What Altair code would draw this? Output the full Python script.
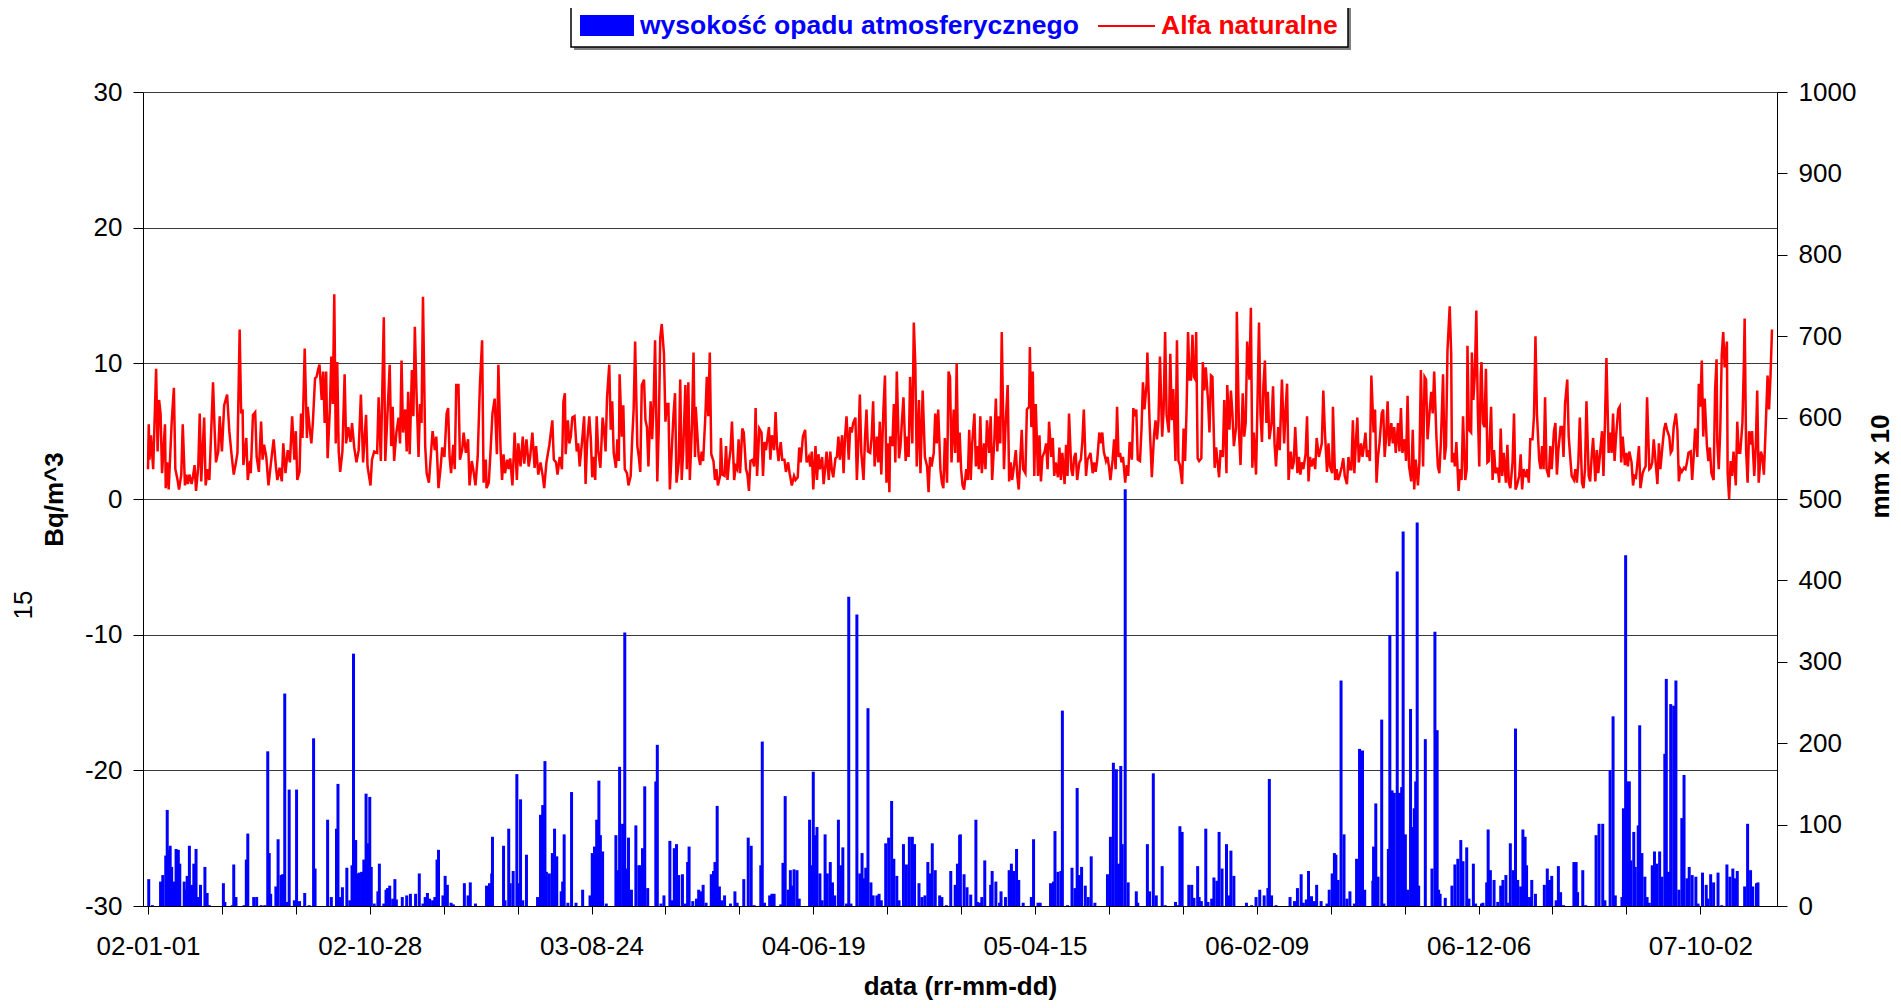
import altair as alt
import pandas as pd

FONT = "Liberation Sans"

# ---- Alfa naturalne [Bq/m^3]: (day since 2002-01-01, value) ----
alfa_a = [(0,2.2),(1,5.5),(2,2.9),(4,4.7),(7,2.2),(11,9.6),(13,3.5),(15,7.3),(17,6.3),(19,1.9),(23,5.5),(24,0.8),(26,2.7),(28,0.7),(32,5.6),(35,8.2),(37,2.2),(40,1.4),(42,0.7),(45,1.8),(47,5.5),(50,1.0),(52,1.8),(54,1.1),(56,1.8),(59,1.1),(61,1.7),(63,2.5),(65,0.6),(68,2.4),(70,6.3),(72,1.3),(76,6.0),(78,1.0),(81,2.2),(83,1.4),(88,8.6),(90,5.3),(92,2.7),(95,3.5),(97,6.1),(100,3.5),(103,6.9),(107,7.7),(110,5.0),(113,3.3),(116,1.8),(119,2.7),(121,3.4),(124,12.5),(126,6.3),(128,6.6),(129,2.5),(133,4.5),(135,1.4),(138,2.8),(139,1.9),(142,6.2),(145,6.4),(147,3.1),(150,2.0),(153,5.7),(155,2.9),(157,4.0),(160,3.1),(163,1.0),(166,2.5),(170,4.4),(173,2.4),(175,1.4),(178,2.3),(181,1.3),(183,4.1),(186,1.9),(189,3.6),(192,2.7),(195,6.1),(198,2.9),(200,5.0),(202,1.4),(205,2.0),(207,6.3),(209,4.5),(212,11.1),(215,4.5),(216,6.8),(219,5.1),(221,4.1),(223,5.6),(226,8.9),(228,9.0),(230,9.5),(232,9.9),(235,7.3),(237,9.4),(239,5.6),(241,9.4),(243,3.0),(246,6.6),(248,10.5),(250,7.0),(252,15.1),(254,4.1),(256,10.1),(258,3.5),(260,2.0),(263,3.5),(266,9.2),(268,4.1),(271,5.3),(274,4.2),(276,5.6),(279,3.8),(282,2.7),(285,3.6),(288,7.7),(291,2.7),(295,6.2),(297,2.4),(301,1.0),(303,2.9),(306,3.5),(310,3.4),(312,7.5),(315,2.8),(319,13.4),(321,2.8),(324,6.3),(327,9.9),(329,3.9),(331,6.8),(333,2.8),(336,4.9),(339,6.0),(341,4.1),(343,10.2),(345,4.9),(348,6.6),(350,3.5),(352,7.9),(354,3.3),(357,9.5),(359,6.1),(361,12.7),(363,8.3),(366,3.1),(368,7.0),(370,5.6),(372,14.9),(375,3.9),(377,1.9),(380,1.2),(383,3.5),(385,5.0),(388,3.6),(390,4.6),(393,0.8),(396,2.4),(398,3.8),(401,3.1),(404,6.3),(406,6.7),(408,3.1),(410,1.9),(413,4.0),(415,2.2),(417,8.4),(420,8.4),(422,2.9),(425,3.6),(427,4.9),(430,3.4),(433,4.4),(435,1.0),(438,2.8),(440,2.2),(443,1.0),(446,3.1),(449,8.4),(452,11.7),(454,1.2),(457,2.9),(458,0.8),(461,1.2),(463,3.1),(466,6.3),(469,7.4),(472,3.3),(474,9.9),(477,3.6),(479,1.4),(481,3.3),(483,1.9),(486,2.9),(488,2.2),(490,3.0),(493,1.0),(496,4.9),(499,1.4),(501,4.1),(504,2.4),(507,4.6),(509,2.6),(512,4.4),(515,2.4),(517,3.1),(520,4.9),(523,2.3),(525,3.9),(528,1.8),(531,2.7),(534,1.7),(536,0.8),(539,2.7)]
alfa_b = [(543,4.0),(547,5.8),(549,2.9),(552,2.7),(554,1.8),(557,3.1),(560,2.2),(562,7.2),(564,7.8),(565,3.3),(568,5.8),(570,4.1),(572,4.6),(574,6.0),(577,6.1),(580,3.5),(582,4.1),(584,2.4),(587,4.1),(590,6.1),(592,1.1),(594,4.1),(597,6.1),(599,4.5),(601,1.6),(603,3.1),(605,1.4),(607,6.1),(609,3.6),(612,2.3),(615,6.0),(617,5.1),(619,3.5),(621,7.5),(624,9.9),(626,5.1),(628,7.2),(630,3.4),(633,2.3),(635,4.4),(637,2.8),(638,9.2),(641,4.6),(643,6.9),(645,2.2),(648,1.9),(650,1.0),(653,1.7),(655,4.4),(657,6.6),(659,11.6),(662,3.9),(664,3.1),(666,2.0),(668,8.4),(671,8.8),(673,5.8),(675,5.3),(677,2.4),(680,7.2),(682,4.4),(684,7.0),(686,11.7),(689,1.3),(691,5.3),(693,11.9),(695,12.9),(698,10.7),(700,5.7),(702,7.0),(704,7.0),(706,0.7),(709,4.1),(711,6.3),(713,7.8),(715,1.2),(718,2.7),(720,8.8),(722,1.4),(724,3.5),(727,8.4),(729,2.2),(731,8.6),(733,1.4),(736,5.6),(738,10.8),(740,3.1),(741,6.8),(745,3.1),(747,2.5),(749,3.5),(751,2.8),(754,6.1),(756,9.0),(758,6.1),(760,10.8),(762,3.3),(765,2.8),(767,1.4),(769,2.2),(771,1.0),(774,1.7),(775,4.5),(777,1.8),(780,1.7),(782,3.9),(784,1.4),(786,2.7),(788,3.6),(790,5.7),(793,1.4),(795,2.4),(797,2.2),(799,4.4),(801,1.9),(804,5.2),(806,4.9),(809,2.2),(811,1.8),(813,0.6),(815,2.8),(818,2.9),(820,2.4),(822,6.7),(824,1.7),(827,5.2),(830,4.9),(832,1.7),(834,4.2),(836,3.6),(840,5.3),(842,2.9),(844,4.7),(847,3.6),(849,6.4),(851,3.9),(853,2.8),(856,4.2),(858,2.9),(861,2.9),(863,2.0),(866,2.7),(868,1.9),(871,1.0),(874,1.7),(876,1.4),(879,1.6),(881,3.8),(883,2.7),(886,4.6),(889,5.1),(891,2.7),(894,3.1),(896,2.4),(898,3.5),(900,0.7),(903,3.9),(905,1.4),(907,3.3),(909,2.2),(912,3.1),(914,1.1),(916,2.2),(918,3.5),(921,1.4),(923,3.5),(925,2.2),(927,1.6),(930,3.0),(932,3.1),(934,4.6),(936,2.9),(939,4.7),(941,1.9),(943,4.6),(945,6.1),(948,2.9),(950,5.3),(952,4.9),(954,5.6),(957,6.0),(959,1.4),(961,4.1),(963,7.7),(965,3.4),(968,1.4),(970,4.5),(972,6.6),(974,3.5),(977,3.4),(979,4.6),(981,7.2),(983,2.4),(986,4.6),(988,2.7),(990,5.7),(992,1.8),(995,6.7),(997,9.1),(999,1.2),(1001,4.1),(1003,0.5),(1004,4.6),(1007,3.9),(1009,7.0),(1011,2.7),(1013,9.4),(1016,3.0),(1018,3.9),(1020,5.8),(1022,7.5),(1025,2.8),(1027,4.6),(1029,3.1),(1031,9.0),(1034,4.1),(1036,13.0),(1038,10.0),(1040,2.4),(1043,7.3),(1045,1.9),(1048,8.0),(1051,3.1),(1054,2.4),(1056,0.5),(1058,3.1),(1060,2.4),(1063,3.4),(1065,6.3),(1067,4.1),(1069,6.6),(1072,2.2),(1074,1.2),(1076,0.8),(1078,4.5),(1081,1.2),(1083,9.4),(1085,9.0),(1087,2.7),(1090,6.6),(1092,3.4),(1094,10.0),(1096,2.7)]
alfa_c = [(1098,4.9),(1100,2.2),(1102,1.0),(1104,0.7),(1107,2.2),(1109,1.4),(1111,5.1),(1113,1.4),(1115,4.1),(1118,6.3),(1120,2.4),(1122,3.9),(1124,2.2),(1126,6.1),(1128,1.9),(1131,4.1),(1133,2.2),(1135,5.8),(1138,3.4),(1140,6.1),(1142,1.4),(1145,4.4),(1147,7.4),(1149,3.5),(1151,6.1),(1153,4.1),(1155,12.3),(1158,2.2),(1160,5.3),(1163,8.4),(1165,1.3),(1167,2.7),(1169,1.4),(1171,2.2),(1174,3.6),(1176,1.7),(1178,0.7),(1180,2.9),(1182,5.1),(1184,2.2),(1187,1.9),(1189,6.6),(1192,6.8),(1193,11.2),(1195,5.3),(1197,9.4),(1199,1.7),(1201,7.0),(1204,1.7),(1206,4.7),(1208,1.3),(1210,3.1),(1213,3.5),(1215,4.1),(1217,2.2),(1219,5.7),(1222,3.1),(1224,4.5),(1226,1.7),(1228,2.7),(1231,1.6),(1233,3.8),(1235,1.4),(1237,3.4),(1240,1.1),(1242,4.0),(1244,1.7),(1246,6.3),(1249,2.2),(1251,1.7),(1253,3.1),(1255,3.4),(1257,1.4),(1260,2.7),(1262,2.9),(1264,4.2),(1266,6.6),(1269,1.7),(1271,2.9),(1273,3.1),(1275,3.4),(1278,1.9),(1280,2.7),(1282,2.0),(1284,2.8),(1287,4.9),(1289,4.1),(1291,4.9),(1293,3.5),(1296,2.8),(1298,3.1),(1300,2.4),(1302,1.4),(1305,2.9),(1307,4.4),(1309,2.2),(1311,6.8),(1313,3.1),(1315,3.4),(1317,2.7),(1319,3.1),(1322,1.2),(1324,2.5),(1326,1.7),(1328,4.2),(1331,2.9),(1333,6.7),(1335,6.1),(1337,6.6),(1339,2.9),(1342,2.8),(1344,5.1),(1346,8.6),(1348,6.6),(1351,8.5),(1352,10.8),(1355,5.6),(1357,3.0),(1358,1.6),(1361,4.7),(1363,5.8),(1365,4.4),(1367,5.8),(1369,10.5),(1372,4.6),(1374,6.6),(1376,12.3),(1378,6.2),(1381,4.9),(1383,10.7),(1385,5.8),(1387,8.1),(1390,2.8),(1392,11.7),(1394,2.8),(1396,2.5),(1399,1.1),(1401,5.2),(1403,2.8),(1405,6.6),(1407,12.3),(1409,8.8),(1411,8.8),(1413,12.1),(1415,9.0),(1417,8.8),(1418,12.3),(1420,3.0),(1422,2.8),(1425,3.0),(1427,10.1),(1429,8.0),(1431,9.7),(1434,7.3),(1436,4.9),(1438,9.1),(1440,9.0),(1443,2.3),(1445,3.8),(1447,2.7),(1449,1.6),(1451,3.6),(1454,3.1),(1456,7.3),(1459,1.9),(1460,8.4),(1463,5.1),(1465,8.0),(1467,6.3),(1469,3.9),(1472,5.3),(1473,13.8),(1476,4.9),(1478,2.5),(1481,7.8),(1483,4.6),(1485,5.6),(1487,11.6),(1490,8.8),(1492,14.1),(1494,2.3),(1496,4.9),(1499,1.8),(1500,4.4),(1503,13.0),(1505,6.3),(1507,4.2),(1509,8.4),(1511,10.2),(1513,5.6),(1515,7.9),(1517,4.4),(1520,5.6),(1522,8.3),(1524,4.1),(1526,2.4),(1529,5.3),(1531,3.6),(1534,8.8),(1537,4.1),(1539,6.6),(1541,8.5),(1543,1.4),(1546,3.5),(1548,2.2),(1550,2.7),(1552,5.3),(1555,1.9),(1557,3.1),(1559,1.8),(1561,2.7),(1563,2.2),(1566,3.3),(1568,6.1),(1570,1.3),(1572,3.1),(1574,2.4),(1577,3.0),(1579,2.2),(1581,4.5),(1584,3.1),(1586,3.6),(1588,4.1),(1590,8.0),(1592,5.1),(1595,2.0),(1597,4.1),(1599,2.4),(1602,1.9),(1603,6.8),(1606,1.4),(1608,2.2),(1610,1.4),(1612,1.7),(1615,2.4),(1617,3.0),(1619,1.7),(1622,1.1),(1624,3.1),(1626,2.2),(1628,2.2),(1630,5.8),(1632,1.9),(1634,4.1),(1636,6.0),(1638,2.7),(1641,4.1),(1643,3.1),(1645,3.9),(1647,4.9)]
alfa_d = [(1649,3.1),(1651,3.6),(1653,2.8),(1655,9.1),(1658,4.9),(1660,6.6),(1662,1.2),(1664,3.1),(1666,4.1),(1669,6.3),(1671,6.6),(1673,3.1),(1675,4.6),(1677,7.2),(1679,3.9),(1682,5.6),(1684,4.1),(1686,5.3),(1688,3.4),(1691,5.6),(1693,3.5),(1695,6.7),(1697,3.4),(1700,4.4),(1702,2.8),(1704,7.6),(1706,2.4),(1709,1.3),(1711,5.1),(1713,0.7),(1715,2.9),(1718,1.0),(1720,2.7),(1722,9.5),(1725,2.4),(1727,9.0),(1729,8.8),(1731,4.4),(1734,6.6),(1736,7.9),(1738,6.3),(1740,9.4),(1743,4.6),(1745,2.4),(1747,1.9),(1749,4.1),(1752,9.2),(1754,2.9),(1756,3.9),(1758,11.0),(1761,14.2),(1763,10.7),(1764,2.7),(1766,3.4),(1768,2.4),(1770,4.2),(1773,0.6),(1775,2.2),(1777,1.4),(1779,6.1),(1782,1.4),(1784,2.2),(1785,11.3),(1787,5.1),(1790,4.9),(1791,10.8),(1793,7.3),(1795,9.2),(1797,13.9),(1799,6.6),(1801,2.4),(1803,9.2),(1804,10.1),(1806,5.6),(1808,5.3),(1810,9.6),(1812,2.7),(1814,2.8),(1817,6.8),(1819,1.4),(1821,3.6),(1823,1.9),(1826,2.3),(1828,1.2),(1830,5.2),(1832,1.7),(1834,3.4),(1837,1.2),(1839,4.0),(1841,1.2),(1843,0.8),(1846,2.7),(1848,6.3),(1850,0.7),(1852,1.0),(1855,1.7),(1857,3.3),(1859,0.7),(1861,2.2),(1864,1.6),(1866,2.2),(1868,1.2),(1870,4.4),(1873,4.4),(1875,6.1),(1877,12.0),(1879,6.3),(1882,2.9),(1884,2.2),(1886,3.9),(1888,2.2),(1890,7.5),(1892,2.2),(1895,1.6),(1897,3.9),(1899,2.2),(1902,5.0),(1904,5.6),(1906,1.8),(1908,3.6),(1911,5.3),(1913,5.3),(1915,3.1),(1917,7.0),(1920,8.8),(1922,4.6),(1924,3.1),(1926,1.7),(1929,1.4),(1931,2.2),(1933,1.2),(1935,2.7),(1937,6.0),(1940,1.2),(1942,0.8),(1944,2.2),(1946,7.2),(1949,1.7),(1951,1.3),(1953,3.1),(1955,4.5),(1958,1.3),(1960,3.6),(1962,1.9),(1964,3.1),(1967,5.0),(1969,1.7),(1971,5.6),(1973,10.4),(1976,3.4),(1978,4.9),(1980,3.4),(1982,6.3),(1984,2.8),(1986,4.6),(1989,6.6),(1991,6.8),(1993,2.7),(1995,4.6),(1998,2.5),(2000,3.4),(2002,2.4),(2004,3.5),(2007,2.7),(2009,1.0),(2011,1.7),(2013,1.6),(2015,2.7),(2017,3.9),(2019,0.8),(2022,1.9),(2024,2.2),(2026,2.4),(2028,7.5),(2031,2.2),(2033,2.3),(2035,2.7),(2037,4.4),(2040,2.4),(2042,1.1),(2044,4.1),(2046,2.2),(2049,4.0),(2051,5.1),(2053,5.6),(2055,5.1),(2058,4.6),(2060,3.4),(2062,3.6),(2064,5.3),(2067,6.3),(2069,5.1),(2071,1.3),(2073,2.2),(2075,2.0),(2078,2.3),(2080,2.2),(2082,2.7),(2084,3.4),(2087,3.5),(2089,1.4),(2091,3.1),(2093,5.2),(2096,3.1),(2098,8.5),(2100,6.8),(2102,10.2),(2104,4.6),(2106,7.4),(2109,3.9),(2111,2.8),(2113,3.8),(2115,1.9),(2118,1.4),(2120,8.0),(2122,10.3),(2123,4.2),(2125,2.2),(2127,5.1),(2129,10.6),(2131,12.3),(2133,9.7),(2136,11.6),(2137,1.9),(2139,0.0),(2141,2.8),(2143,1.7),(2145,3.5),(2148,1.0),(2150,5.7),(2152,3.4),(2154,3.4),(2157,5.6),(2159,10.1),(2160,13.3),(2162,3.6),(2164,1.2),(2166,5.0),(2168,4.0),(2170,5.0),(2173,1.7),(2175,3.8),(2177,8.0),(2179,1.2),(2182,3.5),(2184,3.1),(2186,1.8),(2188,4.6),(2191,9.1),(2193,6.6),(2195,9.1),(2197,12.5)]

# ---- wysokość opadu atmosferycznego [mm x 10]: (day, value) ----
opad_a = [(1,33),(6,1),(17,30),(20,38),(24,62),(26,118),(28,69),(30,74),(32,48),(35,30),(38,70),(41,69),(43,52),(49,30),(51,20),(53,37),(56,74),(58,24),(60,26),(62,52),(65,70),(68,11),(71,26),(77,48),(80,16),(83,1),(102,28),(104,5),(114,1),(116,51),(119,11),(130,1),(133,57),(135,89),(143,11),(147,11),(153,1),(158,1),(162,190),(164,65),(166,15),(173,24),(176,82),(180,38),(182,39),(185,261),(188,5),(191,143),(198,7),(201,143),(205,6),(212,16),(218,1),(224,206),(226,46),(243,106),(248,11),(255,95),(257,150),(260,11),(263,23),(269,47),(273,7),(276,50),(278,310),(281,81),(284,40),(286,41),(289,42),(292,57),(295,138),(297,77),(300,134),(302,48),(306,3),(311,18),(313,52),(319,3),(322,20),(324,22),(327,25),(331,9),(334,33),(336,8),(344,11),(350,13),(355,15),(362,15),(367,40),(372,3),(375,11),(378,16),(381,9),(385,7),(388,11),(391,57),(393,69),(399,13),(402,37),(405,26),(410,4),(413,2),(428,28),(433,13),(436,29),(443,3),(458,25),(462,28),(465,40),(466,85),(481,74),(483,7),(488,95),(490,28),(494,43),(499,162),(501,28),(504,131),(507,7),(512,63),(527,11),(531,112),(534,124),(537,178),(539,42),(543,40)]
opad_b = [(547,65),(550,95),(553,61),(559,18),(561,30),(563,88),(568,4),(573,140),(579,4),(588,20),(598,13),(601,65),(604,73),(607,106),(610,154),(612,87),(615,67),(620,3),(633,87),(635,44),(638,171),(642,101),(645,336),(647,46),(650,84),(654,20),(660,99),(664,50),(666,50),(669,71),(672,147),(676,22),(687,153),(689,198),(694,3),(698,13),(706,80),(709,7),(712,71),(715,76),(718,38),(723,39),(727,3),(730,54),(732,73),(737,6),(742,9),(745,20),(748,18),(751,26),(755,4),(762,39),(765,43),(767,54),(770,123),(773,24),(776,7),(780,13),(788,3),(794,18),(797,4),(806,33),(812,84),(816,74),(820,1),(829,50),(831,202),(834,4),(841,13),(844,15),(847,15),(856,2),(859,53),(862,135),(866,20),(869,44),(872,25),(874,45),(878,44),(881,9),(895,106),(897,50),(900,165),(902,87),(905,97),(909,40),(912,7),(916,88),(919,40),(923,54),(926,29),(929,13),(934,106),(937,50),(940,72),(945,3),(948,380),(951,3),(959,358),(963,40),(966,65),(969,34),(971,47),(974,243),(978,29),(981,13),(986,13),(989,15),(992,7),(998,77),(1002,84),(1006,129),(1009,58),(1013,37),(1016,7),(1022,76),(1026,51),(1030,85),(1034,85),(1037,76),(1043,28),(1047,11),(1051,13),(1055,54),(1058,40),(1061,77),(1065,44),(1071,13),(1074,11),(1080,1),(1086,43),(1092,26),(1095,52),(1098,87)]
opad_c = [(1099,88),(1104,39),(1108,23),(1113,14),(1120,106),(1122,5),(1125,4),(1128,11),(1132,56),(1140,26),(1142,43),(1147,30),(1152,4),(1154,18),(1160,11),(1165,44),(1168,52),(1171,43),(1175,70),(1178,32),(1184,4),(1195,11),(1198,82),(1204,4),(1207,4),(1221,28),(1225,30),(1227,92),(1231,42),(1235,43),(1237,240),(1244,1),(1250,47),(1254,22),(1257,145),(1260,38),(1263,48),(1268,25),(1272,11),(1276,61),(1281,4),(1298,39),(1302,85),(1306,176),(1310,168),(1313,52),(1316,172),(1318,76),(1322,512),(1326,29),(1337,18),(1339,4),(1352,76),(1355,18),(1360,163),(1364,13),(1372,49),(1376,1),(1390,5),(1393,1),(1396,98),(1399,91),(1408,26),(1412,26),(1415,10),(1420,49),(1422,11),(1425,6),(1431,95),(1434,5),(1439,9),(1442,35),(1446,31),(1449,91),(1453,46),(1459,76),(1462,13),(1465,68),(1469,37),(1486,4),(1493,1),(1499,11),(1504,20),(1510,13),(1515,22),(1517,156),(1520,13),(1526,1),(1545,11),(1551,6),(1555,22),(1560,39),(1563,4),(1567,8),(1570,43),(1574,12),(1578,6),(1581,26),(1587,6),(1595,3),(1598,20),(1602,40),(1605,65),(1607,63),(1610,32),(1614,277),(1618,88),(1622,9),(1626,18),(1632,3),(1635,58),(1639,193),(1643,191)]
opad_d = [(1646,20),(1657,31),(1658,73),(1661,126),(1664,36),(1669,229),(1672,3),(1678,70),(1680,333),(1683,142),(1686,139),(1690,411),(1693,139),(1696,146),(1698,460),(1701,88),(1704,20),(1708,242),(1710,97),(1713,120),(1715,153),(1717,471),(1719,25),(1728,205),(1737,46),(1741,337),(1744,216),(1746,20),(1748,15),(1755,10),(1764,25),(1768,51),(1772,58),(1776,81),(1779,55),(1784,72),(1787,9),(1793,52),(1796,3),(1804,3),(1806,4),(1811,29),(1813,94),(1816,44),(1821,32),(1826,5),(1830,25),(1833,32),(1837,38),(1840,4),(1843,77),(1847,44),(1850,218),(1853,32),(1857,24),(1860,94),(1863,85),(1865,50),(1869,11),(1872,32),(1877,15),(1889,26),(1893,46),(1896,32),(1899,37),(1905,7),(1908,49),(1911,17),(1915,1),(1929,54),(1932,54),(1934,17),(1941,44),(1945,1),(1959,87),(1963,101),(1968,101),(1971,7),(1978,167),(1982,233),(1985,13),(1994,11),(1996,120),(1999,431),(2002,153),(2004,153),(2006,56),(2010,91),(2012,48),(2016,99),(2018,222),(2021,65),(2025,36),(2028,11),(2031,4),(2035,50),(2038,67),(2041,52),(2045,67),(2048,36),(2052,187),(2054,279),(2057,42),(2060,248),(2064,246),(2067,277),(2071,20),(2075,108),(2078,161),(2082,34),(2085,48),(2089,38),(2094,36),(2097,3),(2103,41),(2108,26),(2110,9),(2114,39),(2118,29),(2124,41),(2129,1),(2136,51),(2140,36),(2144,46),(2147,34),(2150,43),(2160,24),(2164,101),(2168,44),(2171,24),(2176,28),(2178,29)]

left_ticks = [-30, -20, -10, 0, 10, 20, 30]
right_ticks = [0, 100, 200, 300, 400, 500, 600, 700, 800, 900, 1000]
x_ticks = list(range(0, 2198, 100))

alfa = pd.DataFrame(alfa_a + alfa_b + alfa_c + alfa_d, columns=["day", "bq"])
opad = pd.DataFrame(opad_a + opad_b + opad_c + opad_d, columns=["day", "mm"])
one = pd.DataFrame({"k": [0]})

x_axis = alt.Axis(
    values=x_ticks,
    labelExpr="datum.value % 300 == 0 ? timeFormat(datetime(2002, 0, 1 + datum.value), '%y-%m-%d') : ''",
    labelOverlap=False, labelFlush=False, grid=False,
    tickSize=8, tickColor="black", domainColor="black",
    labelFontSize=26, labelFont=FONT, labelColor="black", labelPadding=19,
    labelBaseline="top",
    title="data (rr-mm-dd)", titleFont=FONT, titleFontSize=26, titleFontWeight="bold",
    titleColor="black", titleX=817, titleY=80, titleBaseline="middle", titleAlign="center",
)
x_enc = alt.X("day:Q", scale=alt.Scale(domain=[0, 2197], nice=False, zero=False), axis=x_axis)

bars = alt.Chart(opad).mark_bar(color="#0000FF", size=3).encode(
    x=x_enc,
    y=alt.Y("mm:Q", scale=alt.Scale(domain=[0, 1000], nice=False),
            axis=alt.Axis(orient="right", values=right_ticks, grid=False,
                          labelExpr="'' + datum.value",
                          tickSize=10, tickColor="black", domainColor="black",
                          labelFontSize=26, labelFont=FONT, labelColor="black",
                          labelPadding=11, labelFlush=False, labelOverlap=False,
                          title="mm x 10", titleFont=FONT, titleFontSize=26,
                          titleFontWeight="bold", titleColor="black", titleAngle=270,
                          titleX=103, titleY=374, titleAlign="center", titleBaseline="middle")),
)

line = alt.Chart(alfa).mark_line(color="#FF0000", strokeWidth=2.5).encode(
    x=x_enc,
    y=alt.Y("bq:Q", scale=alt.Scale(domain=[-30, 30], nice=False),
            axis=alt.Axis(orient="left", values=left_ticks, grid=True,
                          labelExpr="'' + datum.value",
                          gridColor="#3a3a3a", gridWidth=1,
                          tickSize=10, tickColor="black", domainColor="black",
                          labelFontSize=26, labelFont=FONT, labelColor="black",
                          labelPadding=11, labelFlush=False, labelOverlap=False,
                          title="Bq/m^3", titleFont=FONT, titleFontSize=26,
                          titleFontWeight="bold", titleColor="black", titleAngle=270,
                          titleX=-89, titleY=407, titleAlign="center", titleBaseline="middle")),
)

# legend box (drawn by hand above the plot)
leg_shadow = alt.Chart(one).mark_rect(fill="#808080").encode(
    x=alt.value(431), x2=alt.value(1208), y=alt.value(-84), y2=alt.value(-42))
leg_box = alt.Chart(one).mark_rect(fill="white", stroke="black", strokeWidth=1.5).encode(
    x=alt.value(428), x2=alt.value(1205), y=alt.value(-87), y2=alt.value(-45))
leg_swatch = alt.Chart(one).mark_rect(fill="#0000FF").encode(
    x=alt.value(437), x2=alt.value(491), y=alt.value(-77), y2=alt.value(-56))
leg_t1 = alt.Chart(one).mark_text(align="left", baseline="middle", font=FONT, fontSize=26.5,
                                  fontWeight="bold", color="#0000FF").encode(
    x=alt.value(497), y=alt.value(-66), text=alt.value("wysokość opadu atmosferycznego"))
leg_line = alt.Chart(one).mark_rule(color="#FF0000", strokeWidth=2).encode(
    x=alt.value(955), x2=alt.value(1012), y=alt.value(-66))
leg_t2 = alt.Chart(one).mark_text(align="left", baseline="middle", font=FONT, fontSize=26.5,
                                  fontWeight="bold", color="#FF0000").encode(
    x=alt.value(1018), y=alt.value(-66), text=alt.value("Alfa naturalne"))
side_txt = alt.Chart(one).mark_text(align="center", baseline="middle", font=FONT, fontSize=26,
                                    angle=270, color="black").encode(
    x=alt.value(-119), y=alt.value(513), text=alt.value("15"))

chart = alt.layer(
    bars, line, leg_shadow, leg_box, leg_swatch, leg_t1, leg_line, leg_t2, side_txt
).resolve_scale(y="independent").properties(
    width=1634, height=814,
    autosize=alt.AutoSizeParams(type="none"),
    padding={"left": 135, "top": 84, "right": 116, "bottom": 94},
    background="white",
).configure_view(strokeWidth=0)

chart.save("out.html", embed_options={"renderer": "svg", "actions": False})
